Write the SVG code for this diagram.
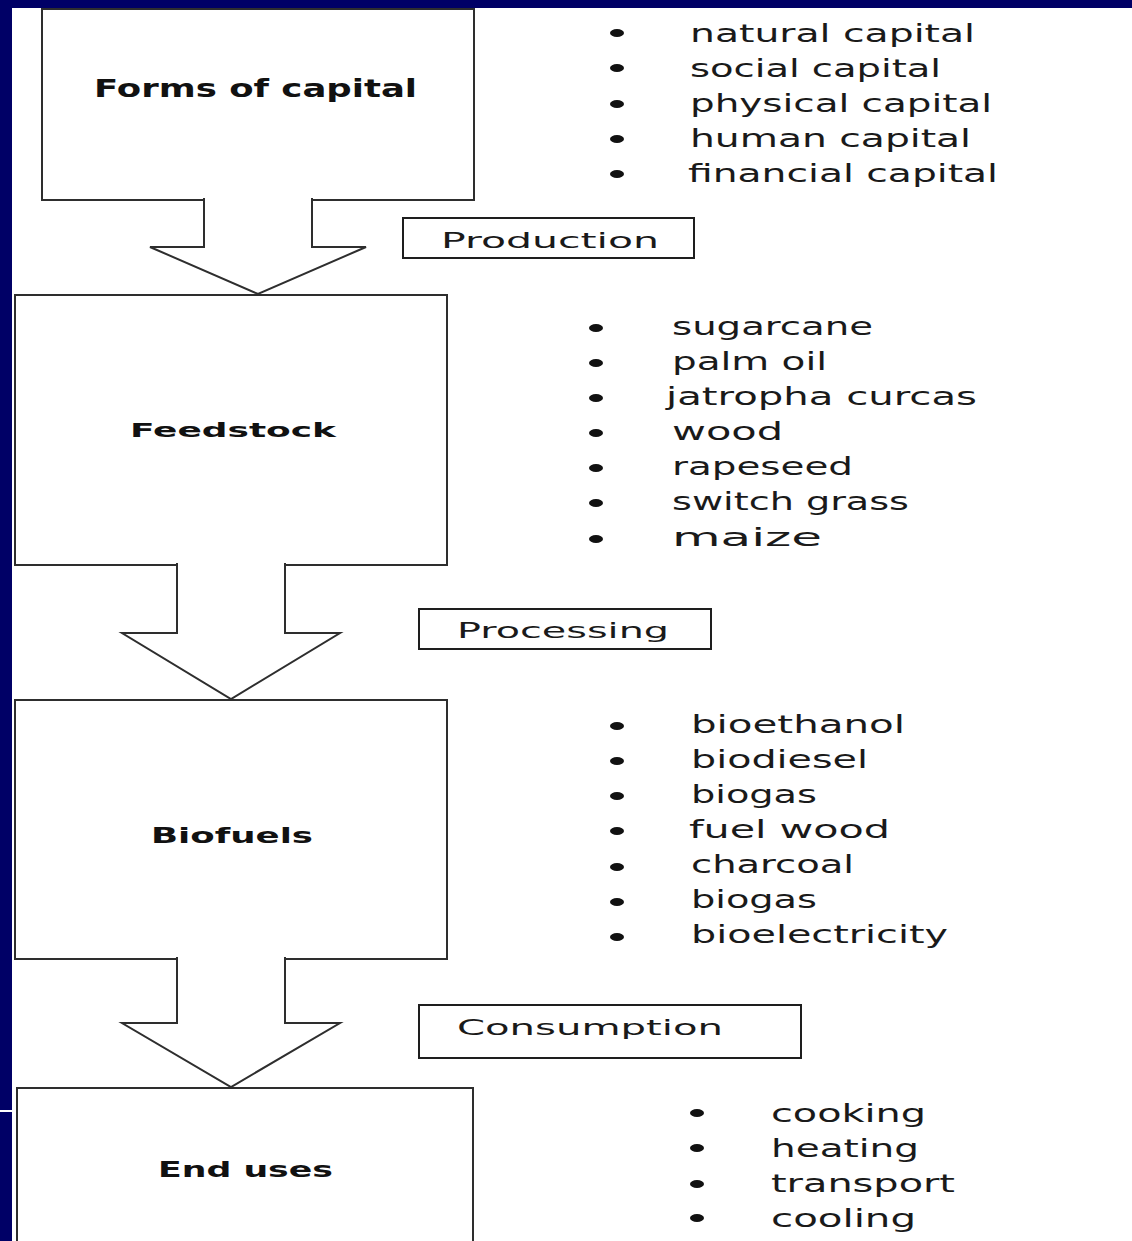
<svg xmlns="http://www.w3.org/2000/svg" width="1132" height="1241" viewBox="0 0 1132 1241">
<style>
  .box { fill: #ffffff; stroke: #2e2e2e; stroke-width: 2; }
  .arrow { fill: #ffffff; stroke: #2e2e2e; stroke-width: 2; stroke-linejoin: miter; }
  .lbl { fill: #ffffff; stroke: #1e1e1e; stroke-width: 2; }
  .title { font-family: "DejaVu Sans", Verdana, sans-serif; font-weight: bold; fill: #111111; }
  .item { font-family: "DejaVu Sans", Verdana, sans-serif; font-size: 24px; fill: #1a1a1a; }
  .stage { font-family: "DejaVu Sans", Verdana, sans-serif; font-size: 22px; fill: #1a1a1a; }
  .bul { fill: #111111; }
  .band { fill: #000066; }
</style>
<defs>
  <clipPath id="clipProc"><rect x="419" y="609" width="292" height="33"/></clipPath>
</defs>
<rect x="0" y="0" width="1132" height="1241" fill="#ffffff"/>

<g id="node-forms">
  <rect class="box" x="42" y="9" width="432" height="191"/>
  <text class="title" x="94" y="97" font-size="24" textLength="323" lengthAdjust="spacingAndGlyphs">Forms of capital</text>
</g>
<g id="node-feedstock">
  <rect class="box" x="15" y="295" width="432" height="270"/>
  <text class="title" x="130" y="437" font-size="20" textLength="206" lengthAdjust="spacingAndGlyphs">Feedstock</text>
</g>
<g id="node-biofuels">
  <rect class="box" x="15" y="700" width="432" height="259"/>
  <text class="title" x="151" y="843" font-size="22" textLength="162" lengthAdjust="spacingAndGlyphs">Biofuels</text>
</g>
<g id="node-enduses">
  <rect class="box" x="17" y="1088" width="456" height="180"/>
  <text class="title" x="158" y="1177" font-size="22" textLength="175" lengthAdjust="spacingAndGlyphs">End uses</text>
</g>

<g id="connectors">
  <path class="arrow" d="M204,198 V247 H150 L258,294 L366,247 H312 V198"/>
  <path class="arrow" d="M177,563 V633 H122 L231,699 L340,633 H285 V563"/>
  <path class="arrow" d="M177,957 V1023 H122 L231,1087 L340,1023 H285 V957"/>
</g>

<g id="label-production">
  <rect class="lbl" x="403" y="218" width="291" height="40"/>
  <text class="stage" x="441" y="248" font-size="21" textLength="218" lengthAdjust="spacingAndGlyphs">Production</text>
</g>
<g id="label-processing">
  <rect class="lbl" x="419" y="609" width="292" height="40"/>
  <text class="stage" x="457" y="638" font-size="23" textLength="212" lengthAdjust="spacingAndGlyphs" clip-path="url(#clipProc)">Processing</text>
</g>
<g id="label-consumption">
  <rect class="lbl" x="419" y="1005" width="382" height="53"/>
  <text class="stage" x="457" y="1035" font-size="22" textLength="266" lengthAdjust="spacingAndGlyphs">Consumption</text>
</g>

<g id="list-capital">
  <ellipse class="bul" cx="617" cy="33" rx="7" ry="4"/>
  <ellipse class="bul" cx="617" cy="68" rx="7" ry="4"/>
  <ellipse class="bul" cx="617" cy="104" rx="7" ry="4"/>
  <ellipse class="bul" cx="617" cy="139" rx="7" ry="4"/>
  <ellipse class="bul" cx="617" cy="174" rx="7" ry="4"/>
  <text class="item" x="690" y="42" textLength="285" lengthAdjust="spacingAndGlyphs">natural capital</text>
  <text class="item" x="690" y="77" textLength="251" lengthAdjust="spacingAndGlyphs">social capital</text>
  <text class="item" x="690" y="112" textLength="302" lengthAdjust="spacingAndGlyphs">physical capital</text>
  <text class="item" x="690" y="147" textLength="281" lengthAdjust="spacingAndGlyphs">human capital</text>
  <text class="item" x="688" y="182" textLength="310" lengthAdjust="spacingAndGlyphs">financial capital</text>
</g>

<g id="list-feedstock">
  <ellipse class="bul" cx="596" cy="328" rx="7" ry="4"/>
  <ellipse class="bul" cx="596" cy="363" rx="7" ry="4"/>
  <ellipse class="bul" cx="596" cy="398" rx="7" ry="4"/>
  <ellipse class="bul" cx="596" cy="433" rx="7" ry="4"/>
  <ellipse class="bul" cx="596" cy="468" rx="7" ry="4"/>
  <ellipse class="bul" cx="596" cy="503" rx="7" ry="4"/>
  <ellipse class="bul" cx="596" cy="539" rx="7" ry="4"/>
  <text class="item" x="672" y="335" textLength="201" lengthAdjust="spacingAndGlyphs">sugarcane</text>
  <text class="item" x="672" y="370" textLength="155" lengthAdjust="spacingAndGlyphs">palm oil</text>
  <text class="item" x="666" y="405" textLength="311" lengthAdjust="spacingAndGlyphs">jatropha curcas</text>
  <text class="item" x="672" y="440" textLength="111" lengthAdjust="spacingAndGlyphs">wood</text>
  <text class="item" x="672" y="475" textLength="181" lengthAdjust="spacingAndGlyphs">rapeseed</text>
  <text class="item" x="672" y="510" textLength="237" lengthAdjust="spacingAndGlyphs">switch grass</text>
  <text class="item" x="672" y="546" textLength="150" lengthAdjust="spacingAndGlyphs">maize</text>
</g>

<g id="list-biofuels">
  <ellipse class="bul" cx="617" cy="726" rx="7" ry="4"/>
  <ellipse class="bul" cx="617" cy="761" rx="7" ry="4"/>
  <ellipse class="bul" cx="617" cy="796" rx="7" ry="4"/>
  <ellipse class="bul" cx="617" cy="831" rx="7" ry="4"/>
  <ellipse class="bul" cx="617" cy="867" rx="7" ry="4"/>
  <ellipse class="bul" cx="617" cy="902" rx="7" ry="4"/>
  <ellipse class="bul" cx="617" cy="937" rx="7" ry="4"/>
  <text class="item" x="691" y="733" textLength="214" lengthAdjust="spacingAndGlyphs">bioethanol</text>
  <text class="item" x="691" y="768" textLength="177" lengthAdjust="spacingAndGlyphs">biodiesel</text>
  <text class="item" x="691" y="803" textLength="126" lengthAdjust="spacingAndGlyphs">biogas</text>
  <text class="item" x="689" y="838" textLength="201" lengthAdjust="spacingAndGlyphs">fuel wood</text>
  <text class="item" x="691" y="873" textLength="163" lengthAdjust="spacingAndGlyphs">charcoal</text>
  <text class="item" x="691" y="908" textLength="126" lengthAdjust="spacingAndGlyphs">biogas</text>
  <text class="item" x="691" y="943" textLength="257" lengthAdjust="spacingAndGlyphs">bioelectricity</text>
</g>

<g id="list-enduses">
  <ellipse class="bul" cx="697" cy="1113" rx="7" ry="4"/>
  <ellipse class="bul" cx="697" cy="1148" rx="7" ry="4"/>
  <ellipse class="bul" cx="697" cy="1184" rx="7" ry="4"/>
  <ellipse class="bul" cx="697" cy="1218" rx="7" ry="4"/>
  <text class="item" x="771" y="1122" textLength="155" lengthAdjust="spacingAndGlyphs">cooking</text>
  <text class="item" x="771" y="1157" textLength="148" lengthAdjust="spacingAndGlyphs">heating</text>
  <text class="item" x="771" y="1192" textLength="184" lengthAdjust="spacingAndGlyphs">transport</text>
  <text class="item" x="771" y="1227" textLength="145" lengthAdjust="spacingAndGlyphs">cooling</text>
</g>

<g id="frame">
  <rect class="band" x="0" y="0" width="1132" height="8"/>
  <rect class="band" x="0" y="0" width="12" height="1241"/>
  <rect x="0" y="1110" width="12" height="2" fill="#ffffff"/>
</g>
</svg>
